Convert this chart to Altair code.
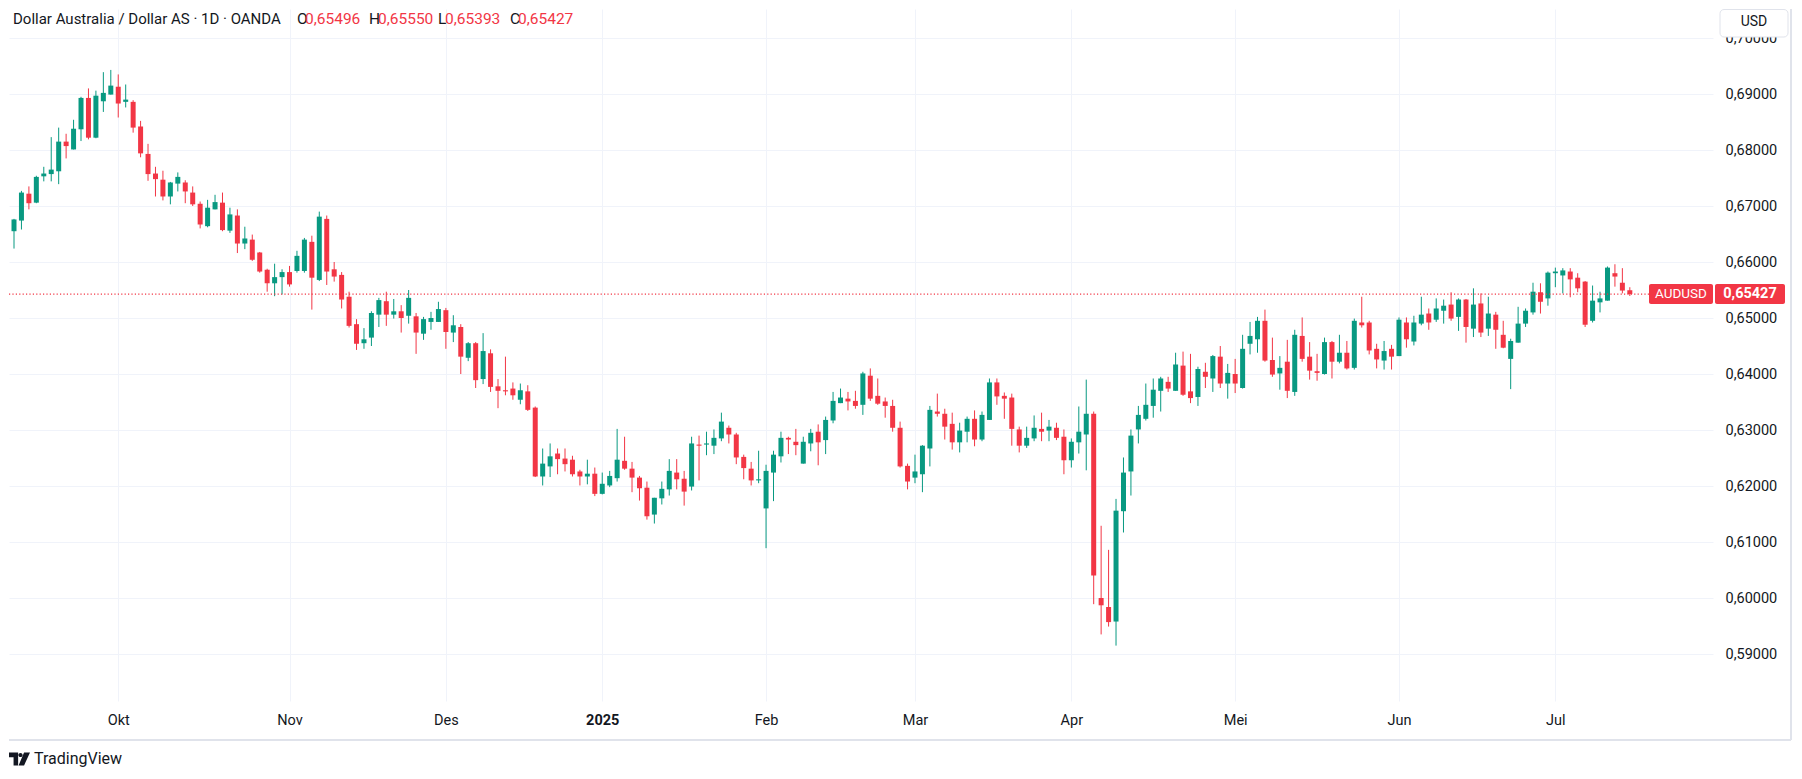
import altair as alt
import pandas as pd

# ---------------- data (AUDUSD daily, OANDA) ----------------
opens = [0.6655,0.6674,0.6722,0.6706,0.6753,0.6757,0.6762,0.6815,0.6801,0.6837,
         0.6893,0.6822,0.6887,0.6899,0.6913,0.6886,0.6886,0.6842,0.6793,0.6758,
         0.6747,0.6717,0.6740,0.6742,0.6724,0.6704,0.6664,0.6694,0.6706,0.6656,
         0.6683,0.6633,0.6640,0.6617,0.6586,0.6562,0.6573,0.6582,0.6584,0.6584,
         0.6636,0.6568,0.6677,0.6587,0.6577,0.6538,0.6489,0.6455,0.6465,0.6506,
         0.6530,0.6506,0.6512,0.6504,0.6503,0.6472,0.6493,0.6493,0.6514,0.6474,
         0.6484,0.6429,0.6455,0.6391,0.6437,0.6378,0.6371,0.6374,0.6354,0.6369,
         0.6340,0.6217,0.6235,0.6258,0.6249,0.6247,0.6226,0.6217,0.6222,0.6186,
         0.6201,0.6214,0.6245,0.6231,0.6215,0.6197,0.6149,0.6178,0.6194,0.6224,
         0.6213,0.6199,0.6274,0.6274,0.6272,0.6285,0.6304,0.6292,0.6252,0.6231,
         0.6210,0.6160,0.6224,0.6253,0.6286,0.6279,0.6240,0.6276,0.6297,0.6282,
         0.6317,0.6348,0.6356,0.6352,0.6345,0.6397,0.6361,0.6351,0.6343,0.6304,
         0.6236,0.6215,0.6221,0.6267,0.6333,0.6329,0.6311,0.6278,0.6297,0.6320,
         0.6283,0.6318,0.6385,0.6361,0.6358,0.6301,0.6272,0.6285,0.6302,0.6299,
         0.6304,0.6288,0.6246,0.6278,0.6292,0.6329,0.6000,0.5984,0.5958,0.6155,
         0.6226,0.6301,0.6320,0.6343,0.6370,0.6386,0.6370,0.6415,0.6369,0.6359,
         0.6404,0.6392,0.6431,0.6383,0.6400,0.6375,0.6454,0.6462,0.6495,0.6425,
         0.6401,0.6422,0.6368,0.6468,0.6431,0.6405,0.6400,0.6457,0.6422,0.6438,
         0.6411,0.6492,0.6492,0.6445,0.6424,0.6445,0.6432,0.6492,0.6458,0.6490,
         0.6508,0.6497,0.6513,0.6524,0.6502,0.6533,0.6481,0.6526,0.6481,0.6506,
         0.6470,0.6427,0.6456,0.6490,0.6510,0.6546,0.6535,0.6580,0.6576,0.6583,
         0.6572,0.6565,0.6495,0.6528,0.6531,0.6580,0.6563,0.65496]
highs = [0.6677,0.6727,0.6735,0.6754,0.6770,0.6823,0.6840,0.6829,0.6854,0.6895,
         0.6910,0.6906,0.6939,0.6943,0.6935,0.6917,0.6889,0.6852,0.6811,0.6770,
         0.6763,0.6743,0.6760,0.6746,0.6735,0.6708,0.6711,0.6720,0.6724,0.6697,
         0.6694,0.6663,0.6649,0.6618,0.6588,0.6597,0.6587,0.6593,0.6620,0.6643,
         0.6647,0.6690,0.6683,0.6600,0.6582,0.6547,0.6498,0.6482,0.6512,0.6536,
         0.6547,0.6534,0.6523,0.6550,0.6509,0.6502,0.6511,0.6529,0.6518,0.6505,
         0.6489,0.6457,0.6457,0.6473,0.6444,0.6391,0.6431,0.6385,0.6383,0.6380,
         0.6342,0.6267,0.6276,0.6267,0.6267,0.6254,0.6229,0.6247,0.6233,0.6224,
         0.6227,0.6302,0.6288,0.6243,0.6218,0.6208,0.6179,0.6208,0.6248,0.6248,
         0.6227,0.6288,0.6290,0.6297,0.6301,0.6331,0.6308,0.6295,0.6256,0.6243,
         0.6263,0.6238,0.6263,0.6297,0.6288,0.6302,0.6288,0.6302,0.6310,0.6324,
         0.6368,0.6374,0.6368,0.6370,0.6404,0.6410,0.6392,0.6358,0.6354,0.6315,
         0.6240,0.6256,0.6273,0.6343,0.6365,0.6338,0.6331,0.6313,0.6324,0.6335,
         0.6333,0.6392,0.6392,0.6367,0.6365,0.6306,0.6306,0.6326,0.6331,0.6318,
         0.6313,0.6301,0.6285,0.6342,0.6390,0.6333,0.6129,0.6086,0.6177,0.6251,
         0.6301,0.6343,0.6383,0.6392,0.6395,0.6395,0.6438,0.6440,0.6436,0.6413,
         0.6420,0.6434,0.6450,0.6418,0.6427,0.6470,0.6493,0.6502,0.6515,0.6465,
         0.6432,0.6461,0.6479,0.6501,0.6457,0.6436,0.6465,0.6459,0.6470,0.6459,
         0.6499,0.6538,0.6495,0.6454,0.6459,0.6452,0.6501,0.6501,0.6504,0.6538,
         0.6517,0.6535,0.6533,0.6546,0.6535,0.6534,0.6553,0.6544,0.6538,0.6511,
         0.6495,0.6463,0.6520,0.6517,0.6563,0.6562,0.6583,0.6590,0.6589,0.6589,
         0.6580,0.6566,0.6558,0.6547,0.6592,0.6596,0.6589,0.65550]
lows = [0.6624,0.6658,0.6694,0.6705,0.6744,0.6744,0.6739,0.6785,0.6801,0.6816,
        0.6819,0.6821,0.6868,0.6899,0.6858,0.6876,0.6831,0.6787,0.6745,0.6717,
        0.6710,0.6703,0.6726,0.6705,0.6700,0.6660,0.6662,0.6694,0.6655,0.6652,
        0.6616,0.6623,0.6602,0.6581,0.6547,0.6539,0.6542,0.6556,0.6581,0.6581,
        0.6515,0.6566,0.6559,0.6565,0.6517,0.6483,0.6443,0.6445,0.6450,0.6484,
        0.6486,0.6499,0.6474,0.6490,0.6436,0.6461,0.6479,0.6493,0.6445,0.6457,
        0.6400,0.6423,0.6375,0.6382,0.6368,0.6339,0.6362,0.6354,0.6346,0.6334,
        0.6216,0.6201,0.6216,0.6221,0.6226,0.6217,0.6201,0.6203,0.6182,0.6185,
        0.6198,0.6208,0.6229,0.6189,0.6174,0.6140,0.6133,0.6167,0.6183,0.6194,
        0.6165,0.6192,0.6210,0.6255,0.6257,0.6280,0.6276,0.6239,0.6212,0.6201,
        0.6205,0.6089,0.6173,0.6242,0.6257,0.6255,0.6240,0.6262,0.6237,0.6257,
        0.6312,0.6348,0.6335,0.6338,0.6327,0.6352,0.6345,0.6322,0.6297,0.6233,
        0.6194,0.6205,0.6189,0.6235,0.6324,0.6283,0.6265,0.6260,0.6278,0.6271,
        0.6280,0.6318,0.6345,0.6320,0.6272,0.6260,0.6268,0.6280,0.6280,0.6280,
        0.6282,0.6221,0.6233,0.6258,0.6228,0.5989,0.5935,0.5949,0.5915,0.6117,
        0.6183,0.6276,0.6317,0.6322,0.6333,0.6368,0.6370,0.6361,0.6348,0.6343,
        0.6375,0.6368,0.6375,0.6356,0.6366,0.6374,0.6435,0.6438,0.6422,0.6395,
        0.6372,0.6357,0.6361,0.6422,0.6390,0.6388,0.6399,0.6392,0.6419,0.6408,
        0.6408,0.6483,0.6435,0.6410,0.6408,0.6408,0.6432,0.6447,0.6451,0.6487,
        0.6479,0.6493,0.6490,0.6495,0.6477,0.6456,0.6466,0.6466,0.6468,0.6445,
        0.6446,0.6373,0.6456,0.6484,0.6506,0.6508,0.6522,0.6555,0.6544,0.6537,
        0.6546,0.6484,0.6492,0.6510,0.6531,0.6556,0.6544,0.65393]
closes = [0.6676,0.6724,0.6705,0.6752,0.6758,0.6765,0.6815,0.6807,0.6838,0.6893,
          0.6822,0.6897,0.6902,0.6915,0.6883,0.6890,0.6840,0.6794,0.6757,0.6748,
          0.6717,0.6742,0.6752,0.6726,0.6703,0.6667,0.6697,0.6707,0.6657,0.6685,
          0.6633,0.6642,0.6604,0.6583,0.6562,0.6573,0.6582,0.6560,0.6611,0.6640,
          0.6572,0.6681,0.6583,0.6574,0.6533,0.6486,0.6454,0.6462,0.6509,0.6532,
          0.6506,0.6512,0.6500,0.6536,0.6474,0.6498,0.6500,0.6516,0.6475,0.6487,
          0.6431,0.6455,0.6389,0.6441,0.6377,0.6370,0.6369,0.6362,0.6371,0.6336,
          0.6217,0.6240,0.6253,0.6248,0.6239,0.6221,0.6217,0.6222,0.6186,0.6204,
          0.6218,0.6247,0.6231,0.6215,0.6196,0.6146,0.6179,0.6195,0.6227,0.6212,
          0.6190,0.6276,0.6272,0.6276,0.6286,0.6315,0.6292,0.6251,0.6232,0.6210,
          0.6212,0.6227,0.6256,0.6286,0.6283,0.6273,0.6279,0.6295,0.6278,0.6318,
          0.6352,0.6358,0.6351,0.6343,0.6401,0.6356,0.6347,0.6343,0.6304,0.6235,
          0.6208,0.6226,0.6272,0.6336,0.6329,0.6306,0.6278,0.6299,0.6320,0.6283,
          0.6327,0.6385,0.6360,0.6356,0.6302,0.6272,0.6286,0.6304,0.6297,0.6306,
          0.6286,0.6246,0.6279,0.6297,0.6329,0.6040,0.5987,0.5957,0.6156,0.6224,
          0.6290,0.6327,0.6345,0.6372,0.6392,0.6374,0.6417,0.6363,0.6357,0.6409,
          0.6395,0.6432,0.6383,0.6402,0.6383,0.6445,0.6468,0.6495,0.6424,0.6399,
          0.6411,0.6370,0.6470,0.6427,0.6406,0.6402,0.6457,0.6422,0.6438,0.6410,
          0.6495,0.6487,0.6442,0.6426,0.6441,0.6431,0.6497,0.6462,0.6492,0.6506,
          0.6492,0.6517,0.6522,0.6499,0.6533,0.6484,0.6524,0.6474,0.6508,0.6479,
          0.6447,0.6459,0.6490,0.6513,0.6547,0.6529,0.6581,0.6583,0.6585,0.6569,
          0.6553,0.6488,0.6531,0.6535,0.6590,0.6574,0.6549,0.65427]

month_idx = [14, 37, 58, 79, 101, 121, 142, 164, 186, 207]
month_labels = ["Okt", "Nov", "Des", "2025", "Feb", "Mar", "Apr", "Mei", "Jun", "Jul"]
price_ticks = [0.59, 0.60, 0.61, 0.62, 0.63, 0.64, 0.65, 0.66, 0.67, 0.68, 0.69, 0.70]

symbol = "AUDUSD"
title_text = "Dollar Australia / Dollar AS \u00b7 1D \u00b7 OANDA"
last_o, last_h, last_l, last_c = 0.65496, 0.65550, 0.65393, 0.65427

# ---------------- styling ----------------
UP = "#089981"
DOWN = "#F23645"
GRID = "#f0f3fa"
TXT = "#131722"
BORDER = "#e0e3eb"
FONT = "Roboto"

W, H = 1704, 692
X_DOMAIN = [0, 227.5]
Y_DOMAIN = [0.58161, 0.70518]

df = pd.DataFrame({
    "i": list(range(len(opens))),
    "open": opens, "high": highs, "low": lows, "close": closes,
})
one = pd.DataFrame({"k": [0]})


def fmt(v):
    return f"{v:.5f}".replace(".", ",")


month_expr = " : ".join(
    f"datum.value == {i} ? '{lab}'" for i, lab in zip(month_idx, month_labels)
) + " : ''"

x_axis = alt.Axis(
    values=month_idx, labelExpr=month_expr, grid=True, gridColor=GRID, gridWidth=1,
    domain=False, ticks=False, tickSize=0, labelPadding=12, labelFontSize=14.5,
    labelColor=TXT, labelFont=FONT, labelFlush=False, labelOverlap=False, title=None,
    labelFontWeight={"condition": {"test": "datum.value == 79", "value": "bold"}, "value": "normal"},
)
y_axis = alt.Axis(
    orient="right", values=price_ticks,
    labelExpr="replace(format(datum.value, '.5f'), '.', ',')",
    grid=True, gridColor=GRID, gridWidth=1, domain=False, ticks=False, tickSize=0,
    labelPadding=12, labelFontSize=14.5, labelColor=TXT, labelFont=FONT,
    labelFlush=False, labelOverlap=False, title=None,
)
xs = alt.Scale(domain=X_DOMAIN, nice=False, zero=False)
ys = alt.Scale(domain=Y_DOMAIN, nice=False, zero=False)

color = alt.condition("datum.close >= datum.open", alt.value(UP), alt.value(DOWN))

wicks = alt.Chart(df).mark_rule(strokeWidth=1, clip=True).encode(
    x=alt.X("i:Q", scale=xs, axis=x_axis, title=None),
    y=alt.Y("low:Q", scale=ys, axis=y_axis, title=None),
    y2="high:Q",
    color=color,
)
bodies = alt.Chart(df).mark_bar(size=5, clip=True).encode(
    x=alt.X("i:Q", scale=xs, axis=x_axis, title=None),
    y=alt.Y("open:Q", scale=ys, axis=y_axis, title=None),
    y2="close:Q",
    color=color,
)

half = 0.00179  # half label height in price units
price_line = alt.Chart(one).mark_rule(color=DOWN, strokeDash=[1.2, 2.2], strokeWidth=1.2).encode(
    y=alt.datum(last_c), x=alt.value(0), x2=alt.value(1640)
)
sym_box = alt.Chart(one).mark_rect(color=DOWN, cornerRadius=2).encode(
    x=alt.value(1640), x2=alt.value(1704), y=alt.datum(last_c + half), y2=alt.datum(last_c - half)
)
price_box = alt.Chart(one).mark_rect(color=DOWN, cornerRadius=2).encode(
    x=alt.value(1706), x2=alt.value(1776), y=alt.datum(last_c + half), y2=alt.datum(last_c - half)
)
sym_text = alt.Chart(one).mark_text(color="white", fontSize=13.5, font=FONT, align="center",
                                    baseline="middle").encode(
    x=alt.value(1672), y=alt.datum(last_c), text=alt.value(symbol)
)
price_text = alt.Chart(one).mark_text(color="white", fontSize=14.5, font=FONT, align="center",
                                      baseline="middle", fontWeight="bold").encode(
    x=alt.value(1741), y=alt.datum(last_c), text=alt.value(fmt(last_c))
)


def txt(x, y, s, col=TXT, size=15.5, weight="normal", align="left"):
    return alt.Chart(one).mark_text(color=col, fontSize=size, font=FONT, align=align,
                                    baseline="middle", fontWeight=weight).encode(
        x=alt.value(x), y=alt.value(y), text=alt.value(s)
    )


header = [
    txt(4, 10, title_text, size=15),
    txt(288, 10, "O"), txt(296, 10, fmt(last_o), DOWN),
    txt(360, 10, "H"), txt(369, 10, fmt(last_h), DOWN),
    txt(429, 10, "L"), txt(436, 10, fmt(last_l), DOWN),
    txt(501, 10, "C"), txt(509, 10, fmt(last_c), DOWN),
]

usd_box = alt.Chart(one).mark_rect(fill="white", stroke=BORDER, strokeWidth=1, cornerRadius=4).encode(
    x=alt.value(1711), x2=alt.value(1779), y=alt.value(0.5), y2=alt.value(28)
)
usd_text = txt(1745, 13, "USD", size=14, align="center")

bottom_border = alt.Chart(one).mark_rule(color=BORDER, strokeWidth=2).encode(
    x=alt.value(0), x2=alt.value(1782), y=alt.value(731)
)
right_border = alt.Chart(one).mark_rule(color=BORDER, strokeWidth=2).encode(
    x=alt.value(1782), y=alt.value(0), y2=alt.value(731)
)

# TradingView logo mark (T block, dot and slanted stroke) as a custom symbol path
LOGO_PATH = (
    "M-1,-0.6087 L-0.1304,-0.6087 L-0.1304,0.6087 L-0.5652,0.6087 L-0.5652,-0.1739 L-1,-0.1739 Z "
    "M0.4348,-0.6087 L1,-0.6087 L0.4348,0.6087 L-0.087,0.6087 Z "
    "M-0.1043,-0.3826 A0.2,0.2 0 1,0 0.2957,-0.3826 A0.2,0.2 0 1,0 -0.1043,-0.3826 Z"
)
logo_icon = alt.Chart(one).mark_point(shape=LOGO_PATH, size=441, filled=True, color=TXT,
                                      opacity=1, strokeWidth=0).encode(
    x=alt.value(10.5), y=alt.value(750)
)
logo_text = txt(25, 750, "TradingView", size=16)

chart = alt.layer(
    wicks, bodies, price_line, sym_box, price_box, sym_text, price_text,
    *header, usd_box, usd_text, bottom_border, right_border, logo_icon, logo_text,
).properties(width=W, height=H, padding=0).configure_view(strokeWidth=0)

chart.save("out.html", embed_options={"renderer": "svg", "actions": False})
